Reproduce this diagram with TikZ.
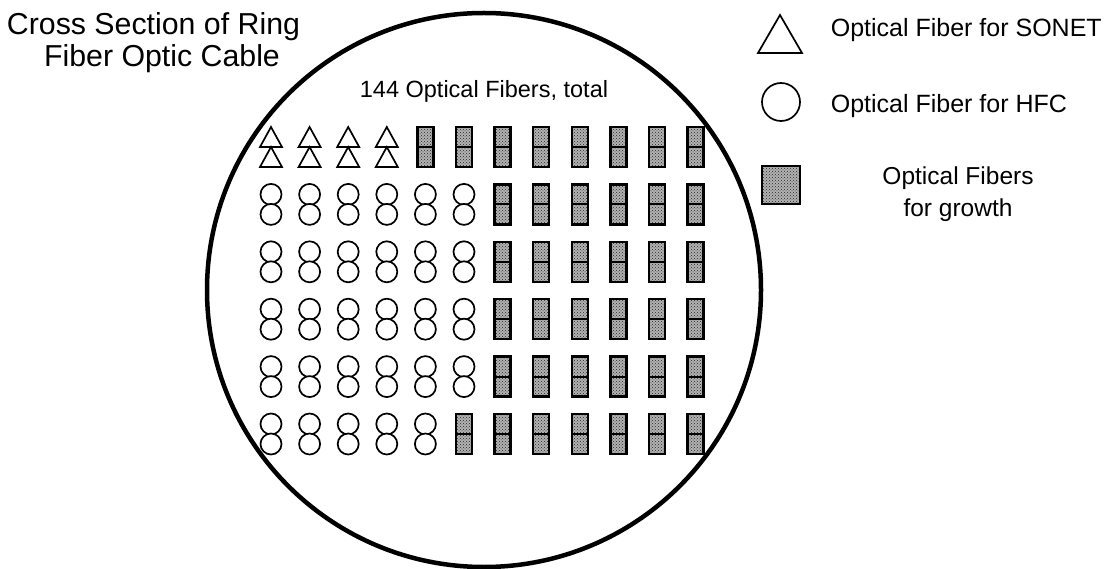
\documentclass[tikz,border=0pt]{standalone}
\usepackage{fontspec}
\setmainfont{Liberation Sans}
\usetikzlibrary{patterns}

\begin{document}
\begin{tikzpicture}[x=1pt, y=-1pt, line width=1.7pt,
    ttl/.style={font=\fontsize{30.3}{32}\selectfont,inner sep=0pt,anchor=base},
    lbl/.style={font=\fontsize{25}{29}\selectfont,inner sep=0pt},
    sonetfib/.style={draw=black,fill=white,line join=miter},
    hfcfib/.style={draw=black,fill=white},
    growfib/.style={draw=black,line width=2.3pt,preaction={fill=black!30},
      pattern=crosshatch dots,pattern color=black!85}]
  \useasboundingbox (0,0) rectangle (1114,569);
  \def\cx{271}    % x of the first fiber column
  \def\cy{147}    % y of the first fiber row (middle of a pair)
  \def\dx{38.6}   % column pitch
  \def\dy{57.4}   % row pitch
  \newcommand{\sonetpair}[2]{%
    \draw[sonetfib] (#1,#2-20) -- (#1+11,#2) -- (#1-11,#2) -- cycle;
    \draw[sonetfib] (#1,#2) -- (#1+11,#2+20) -- (#1-11,#2+20) -- cycle;
  }
  \newcommand{\hfcpair}[2]{%
    \draw[hfcfib] (#1,#2-10) circle[radius=10.5pt];
    \draw[hfcfib] (#1,#2+10) circle[radius=10.5pt];
  }
  \newcommand{\growpair}[2]{%
    \draw[growfib] (#1-8,#2-20) rectangle (#1+8,#2+20);
    \draw[line width=1.8pt] (#1-8,#2) -- (#1+8,#2);
  }
  % cable jacket
  \draw[line width=4.5pt] (484,290) circle[radius=277pt];
  % 12 x 6 cells, two fibers each; \n = used fibers at the left of a row
  \foreach \r/\n in {0/4,1/6,2/6,3/6,4/6,5/5} {
    \foreach \c in {0,...,11} {
      \pgfmathsetmacro{\px}{\cx+\c*\dx}
      \pgfmathsetmacro{\py}{\cy+\r*\dy}
      \ifnum\c<\n
        \ifnum\r=0 \sonetpair{\px}{\py}\else\hfcpair{\px}{\py}\fi
      \else
        \growpair{\px}{\py}
      \fi
    }
  }
  \node[ttl] (ttlA) at (153.5,35) {Cross Section of Ring};
  \node[ttl] (ttlB) at (162,67) {Fiber Optic Cable};
  \node[lbl,font=\fontsize{23.5}{28}\selectfont,anchor=base] (total) at (484,98) {144 Optical Fibers, total};
  % legend
  \draw[sonetfib] (780,15) -- (802,53) -- (758,53) -- cycle;
  \draw[hfcfib] (781,102) circle[radius=19pt];
  \draw[growfib] (762,166) rectangle (800,204);
  \node[lbl,anchor=base west] (lgsonet) at (830,37) {Optical Fiber for SONET};
  \node[lbl,anchor=base west] (lghfc) at (830,113) {Optical Fiber for HFC};
  \node[lbl,font=\fontsize{24.5}{29}\selectfont,anchor=base] (lggrowA) at (958,185) {Optical Fibers};
  \node[lbl,font=\fontsize{24.5}{29}\selectfont,anchor=base] (lggrowB) at (958,217) {for growth};
\end{tikzpicture}
\end{document}
